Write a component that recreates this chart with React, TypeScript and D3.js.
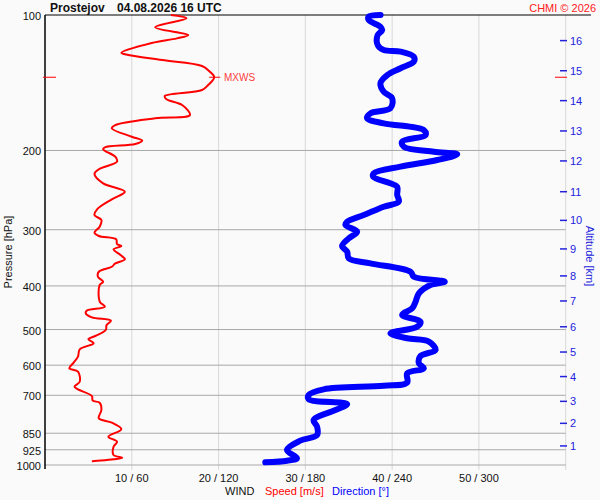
import React, { useEffect } from "react";
import * as d3 from "d3";

const titleStation = "Prostejov";
const titleTime = "04.08.2026 16 UTC";
const copyright = "CHMI © 2026";

const pressureTicks = [100, 200, 300, 400, 500, 600, 700, 850, 925, 1000];
const speedTicks = [10, 20, 30, 40, 50];
const speedTickLabels = ["10 / 60", "20 / 120", "30 / 180", "40 / 240", "50 / 300"];
const altitudeKm = [1, 2, 3, 4, 5, 6, 7, 8, 9, 10, 11, 12, 13, 14, 15, 16];
const altitudePressure = [907, 808, 722, 636, 561, 493, 432, 380, 331, 286, 247, 211, 181, 155, 133, 114];

const speedPressure = [
  100, 101.7, 106.5, 110.8, 112.7, 115.4, 121.3, 122.7, 125.9, 129.8, 133.7, 137.5, 143.1, 146.8,
  151.4, 153.9, 158.5, 166.8, 169.6, 175.6, 178.6, 186.4, 190.3, 193.5, 196.8, 198.8, 206.5, 211.8,
  220.2, 225.6, 236.6, 247.0, 256.8, 270.3, 278.3, 285.5, 295.4, 304.6, 309.8, 315.1, 322.8, 326.1,
  331.7, 341.5, 349.1, 356.4, 362.6, 372.0, 381.6, 391.5, 398.1, 433.6, 444.9, 454.1, 460.2, 469.7,
  477.9, 488.5, 501.2, 516.8, 525.6, 536.5, 553.2, 574.5, 592.5, 609.7, 620.4, 653.0, 669.9, 678.9,
  702.5, 719.6, 727.0, 754.7, 787.5, 805.4, 833.0, 865.1, 887.5, 910.5, 950.1, 963.4, 971.2, 981.3,
];
const speedValues = [
  14.5, 16.3, 12.7, 16.5, 15.2, 12.3, 8.8, 9.6, 13.5, 18.1, 19.0, 19.5, 18.8, 18.1,
  13.8, 14.0, 15.8, 16.7, 12.7, 8.1, 7.7, 10.0, 11.2, 10.4, 6.9, 6.7, 8.1, 8.3,
  6.2, 5.7, 6.7, 9.2, 7.7, 6.0, 5.7, 6.5, 6.3, 5.7, 6.2, 8.2, 8.3, 8.8,
  7.9, 8.7, 9.2, 8.1, 7.7, 6.2, 6.1, 6.7, 6.3, 6.3, 6.9, 4.8, 4.7, 5.4,
  7.6, 7.1, 7.0, 5.8, 5.0, 5.6, 4.0, 3.8, 3.3, 2.8, 3.8, 4.0, 3.4, 3.8,
  5.4, 5.5, 6.3, 6.5, 6.2, 7.7, 8.8, 7.3, 8.3, 7.9, 7.9, 8.9, 7.9, 5.4,
];

const dirPressure = [
  100, 100.8, 102.6, 106.2, 108.0, 110.8, 116.6, 119.6, 120.6, 123.8, 127.0, 131.3, 136.0, 141.9,
  148.1, 153.1, 161.2, 165.4, 169.6, 174.1, 180.2, 184.8, 191.2, 196.2, 201.3, 204.0, 210.0, 217.3,
  224.8, 228.7, 236.6, 240.8, 251.2, 259.9, 266.7, 278.3, 288.0, 292.9, 303.1, 313.5, 326.1, 335.7,
  347.3, 356.4, 372.0, 381.6, 391.5, 398.1, 415.4, 433.6, 448.6, 464.2, 480.4, 492.9, 509.8, 522.9,
  532.1, 555.2, 572.6, 594.3, 609.7, 625.5, 655.7, 666.6, 678.9, 698.9, 714.5, 731.9, 754.7, 794.3,
  822.0, 857.7, 883.0, 926.4, 966.3, 978.2, 986.3,
];
const dirValues = [
  232.0, 223.8, 223.8, 231.9, 233.1, 230.0, 230.0, 234.2, 245.8, 255.0, 255.0, 245.8, 236.6, 231.9,
  234.2, 240.0, 238.8, 225.0, 222.7, 234.2, 261.9, 263.1, 246.9, 248.1, 268.8, 285.0, 271.2, 245.8,
  227.3, 226.9, 238.8, 243.5, 243.5, 244.6, 234.2, 220.4, 208.9, 207.7, 215.8, 210.0, 205.4, 208.9,
  210.0, 225.0, 252.7, 255.0, 276.4, 266.5, 258.5, 256.2, 253.9, 246.9, 259.6, 257.3, 238.8, 250.4,
  265.4, 270.0, 259.6, 258.5, 261.9, 250.4, 250.4, 234.2, 192.7, 182.3, 182.3, 208.9, 200.8, 185.7,
  188.1, 188.1, 176.5, 167.3, 174.2, 167.3, 152.3,
];

const maxWindPressure = 137.5;
const maxWindSpeed = 19.5;

const FONT = "'Liberation Sans', Arial, sans-serif";

export default function App() {
  useEffect(() => {
    document.body.style.margin = "0";
    document.body.style.overflow = "hidden";
  }, []);

  const left = 45;
  const right = 565.7;
  const top = 15;
  const bottom = 465;

  const x = d3.scaleLinear().domain([0, 60]).range([left, right]);
  const xd = d3.scaleLinear().domain([0, 360]).range([left, right]);
  const y = d3.scaleLog().domain([100, 1000]).range([top, bottom]);

  const speedLine = d3
    .line<number>()
    .x((_, i) => x(speedValues[i]))
    .y((p) => y(p))
    .curve(d3.curveCatmullRom.alpha(0.5));
  const dirLine = d3
    .line<number>()
    .x((_, i) => xd(dirValues[i]))
    .y((p) => y(p))
    .curve(d3.curveCatmullRom.alpha(0.5));

  const mxY = y(maxWindPressure);
  const mxX = x(maxWindSpeed);

  return (
    <div style={{ position: "fixed", left: 0, top: 0, width: 600, height: 500 }}>
      <svg width={600} height={500} style={{ display: "block", fontFamily: FONT }}>
        <rect x={0} y={0} width={600} height={500} fill="#fafafa" />
        {[10, 20, 30, 40, 50, 60].map((v) => (
          <line key={v} x1={x(v)} x2={x(v)} y1={top} y2={bottom + 5} stroke="#d8d8d8" strokeWidth={1} />
        ))}
        {pressureTicks.slice(1).map((p) => (
          <line key={p} x1={left} x2={right} y1={y(p)} y2={y(p)} stroke="#a8a8a8" strokeWidth={1} />
        ))}
        <line x1={left} x2={591} y1={top} y2={top} stroke="#000" strokeWidth={1.2} />
        <line x1={left} x2={left} y1={top} y2={bottom + 4} stroke="#000" strokeWidth={1.5} />
        {pressureTicks.map((p) => (
          <text key={p} x={41} y={y(p) + 5} fontSize={11} textAnchor="end" fill="#111">
            {p}
          </text>
        ))}
        {speedTicks.map((v, i) => (
          <text key={v} x={x(v)} y={482} fontSize={11} textAnchor="middle" fill="#111">
            {speedTickLabels[i]}
          </text>
        ))}
        {altitudeKm.map((k, i) => (
          <g key={k}>
            <line x1={560} x2={567} y1={y(altitudePressure[i])} y2={y(altitudePressure[i])} stroke="#2222dd" strokeWidth={1.5} />
            <text x={570} y={y(altitudePressure[i]) + 4} fontSize={11} fill="#2222dd">
              {k}
            </text>
          </g>
        ))}
        <text transform="translate(11.5,252) rotate(-90)" fontSize={11} textAnchor="middle" fill="#111">
          Pressure [hPa]
        </text>
        <text transform="translate(586,256) rotate(90)" fontSize={11} textAnchor="middle" fill="#2222dd">
          Altitude [km]
        </text>
        <text x={225} y={495} fontSize={11} fill="#111">WIND</text>
        <text x={265} y={495} fontSize={11} fill="#ff0000">Speed [m/s]</text>
        <text x={332} y={495} fontSize={11} fill="#0000ff">Direction [°]</text>
        <text x={50} y={12} fontSize={12} fontWeight="bold" fill="#111">{titleStation}</text>
        <text x={117} y={12} fontSize={12} fontWeight="bold" fill="#111">{titleTime}</text>
        <text x={596} y={12} fontSize={11} textAnchor="end" fill="#ff2020">{copyright}</text>
        <path d={dirLine(dirPressure) || ""} fill="none" stroke="#0000ff" strokeWidth={6} strokeLinejoin="round" strokeLinecap="round" />
        <path d={speedLine(speedPressure) || ""} fill="none" stroke="#ff0000" strokeWidth={2} strokeLinejoin="round" />
        <line x1={43} x2={56} y1={mxY} y2={mxY} stroke="#ff0000" strokeWidth={1} />
        <line x1={555} x2={567} y1={mxY} y2={mxY} stroke="#ff0000" strokeWidth={1} />
        <line x1={mxX - 5} x2={mxX + 6} y1={mxY} y2={mxY} stroke="#ff0000" strokeWidth={1} />
        <text x={224} y={mxY + 4} fontSize={10} fill="#ff4040">MXWS</text>
      </svg>
    </div>
  );
}
